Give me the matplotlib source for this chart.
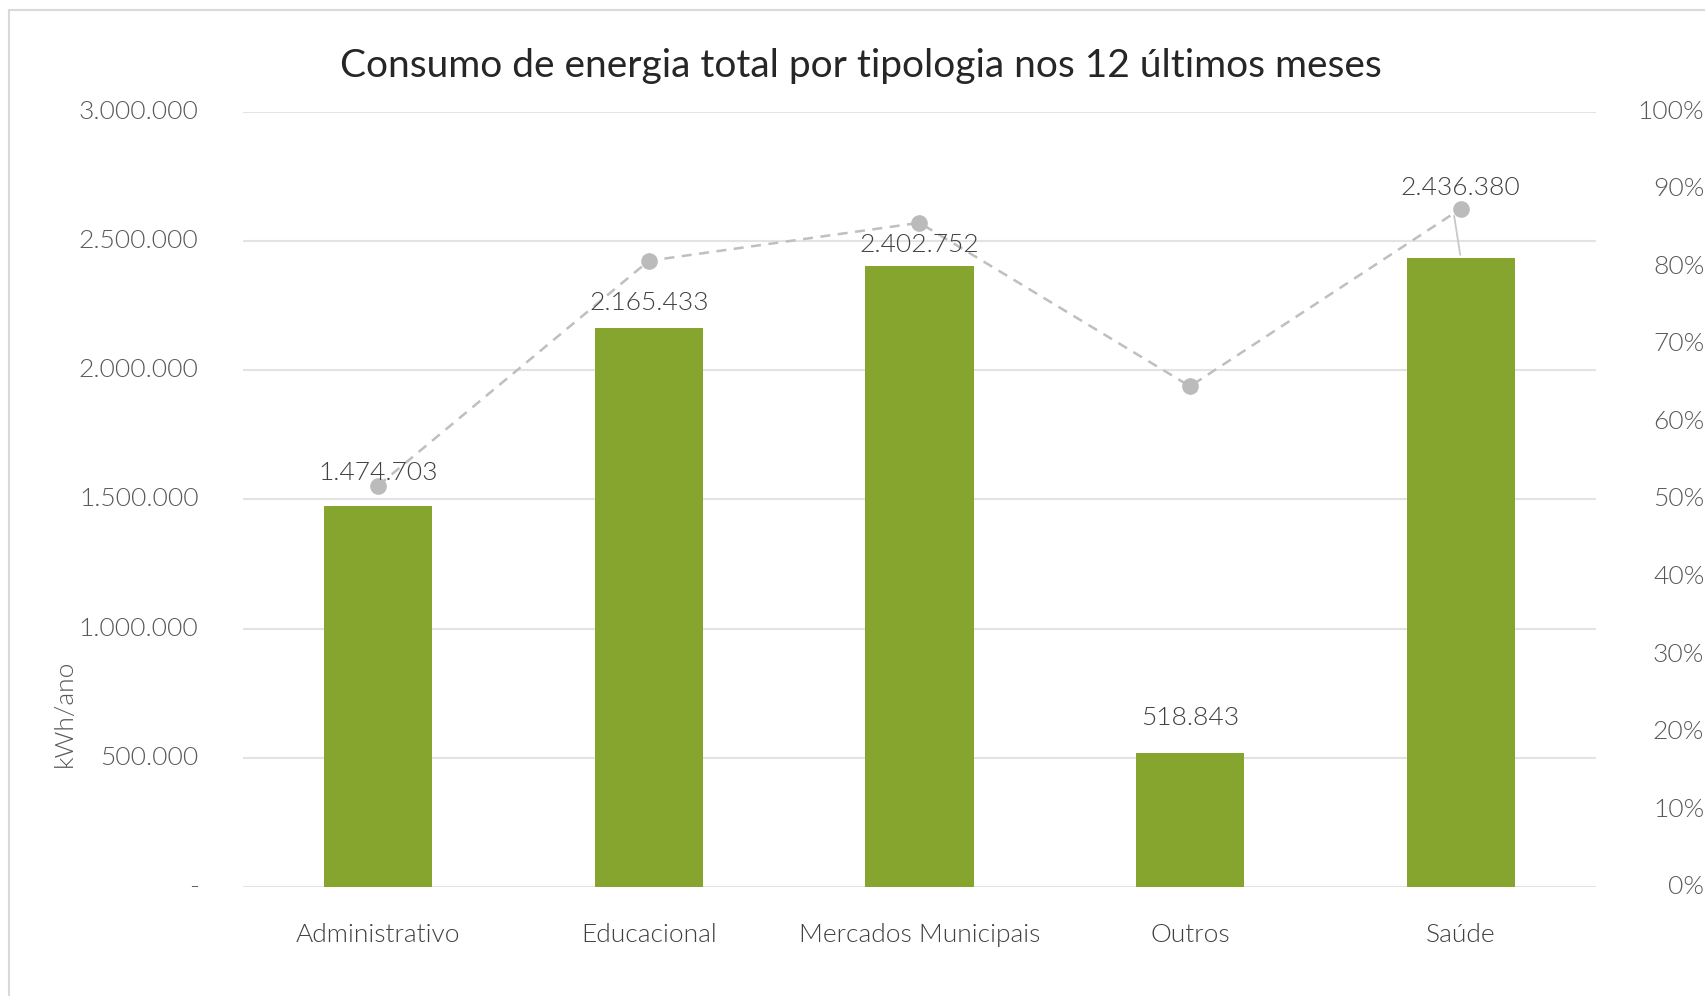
import matplotlib
matplotlib.use('Agg')
import matplotlib.pyplot as plt
from matplotlib.ticker import FuncFormatter, MultipleLocator
from matplotlib.patches import Rectangle

plt.rcParams['font.family'] = ['Lato', 'DejaVu Sans']
plt.rcParams['font.weight'] = 300

# dados
categorias = ['Administrativo', 'Educacional', 'Mercados Municipais', 'Outros', 'Saúde']
consumo = [1474703, 2165433, 2402752, 518843, 2436380]
percentual = [51.8, 80.8, 85.7, 64.6, 87.5]

verde = '#86A52F'
cinza_linha = '#BFBFBF'
cor_texto = '#595959'

fig = plt.figure(figsize=(17.06, 9.96), dpi=100)
ax = fig.add_axes([0.1424, 0.1094, 0.9355 - 0.1424, 0.8876 - 0.1094])
ax2 = ax.twinx()

x = range(len(categorias))
ax.bar(x, consumo, width=0.4, color=verde, zorder=2)

ax.set_xlim(-0.5, len(categorias) - 0.5)
ax.set_ylim(0, 3000000)
ax.yaxis.set_major_locator(MultipleLocator(500000))


def fmt_milhar(v, pos=None):
    if v == 0:
        return '-'
    return f'{int(v):,}'.replace(',', '.')


ax.yaxis.set_major_formatter(FuncFormatter(fmt_milhar))
ax.grid(True, axis='y', color='#E3E3E3', linewidth=1.5, zorder=0)
ax.set_axisbelow(True)
for s in ax.spines.values():
    s.set_visible(False)
for s in ax2.spines.values():
    s.set_visible(False)
ax.tick_params(axis='y', length=0, pad=32, labelsize=19, labelcolor=cor_texto)
ax.tick_params(axis='x', length=0, pad=26, labelsize=19, labelcolor='#404040')
ax.set_xticks(list(x))
ax.set_xticklabels(categorias)
plt.setp(ax.get_yticklabels(), va='center')

# linha percentual no eixo secundario
ax2.plot(x, percentual, color=cinza_linha, linestyle=(0, (4, 3)), linewidth=1.8,
         marker='o', markersize=11, markerfacecolor='#BBBBBB', markeredgecolor='#BBBBBB')
ax2.set_ylim(0, 100)
ax2.yaxis.set_major_locator(MultipleLocator(10))
ax2.yaxis.set_major_formatter(FuncFormatter(lambda v, p: f'{int(v)}%'))
ax2.tick_params(axis='y', length=0, pad=78, labelsize=19, labelcolor=cor_texto)
plt.setp(ax2.get_yticklabels(), ha='right', va='center')

# rotulos das barras
desloc = [33, 25, 21, 35, 70]
for i, v in enumerate(consumo):
    ax2.annotate(fmt_milhar(v), xy=(i, v), xycoords=ax.transData,
                 xytext=(0, desloc[i] / 1.389), textcoords='offset points',
                 ha='center', va='center', fontsize=19, color='#404040', zorder=5)
# linha de chamada do ultimo rotulo
ax2.annotate('', xy=(4, consumo[4]), xycoords=ax.transData,
             xytext=(-5, 32), textcoords='offset points',
             arrowprops=dict(arrowstyle='-', color='#C8C8C8', lw=1.3))

fig.text(0.5047, 0.9337, 'Consumo de energia total por tipologia nos 12 últimos meses',
         ha='center', va='center', fontsize=28, color='#262626', fontweight='normal')
fig.text(0.038, 0.284, 'kWh/ano', rotation=90, ha='center', va='center',
         fontsize=19, color=cor_texto)

fig.patches.append(Rectangle((9 / 1706, -0.1), 1.2, 1 - 10 / 996 + 0.1,
                             transform=fig.transFigure, fill=False,
                             edgecolor='#D9D9D9', linewidth=1.5))

fig.savefig('out.png', dpi=100)
